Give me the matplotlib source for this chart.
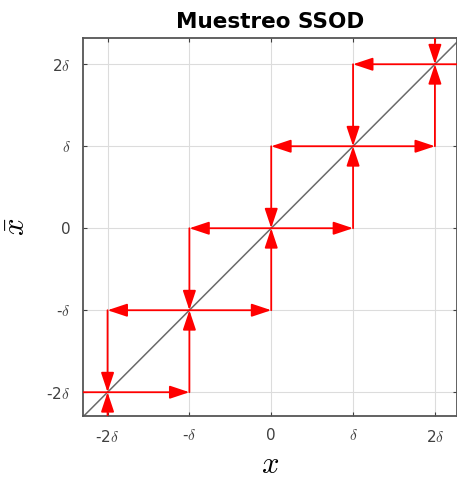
import matplotlib
matplotlib.use("Agg")
import matplotlib.pyplot as plt
import numpy as np

plt.rcParams['mathtext.fontset'] = 'cm'

# Data
levels = [-3, -2, -1, 0, 1, 2, 3]          # quantization levels (in units of delta)
tick_vals = [-2, -1, 0, 1, 2]
tick_labels = ['-2$\\delta$', '-$\\delta$', '0', '$\\delta$', '2$\\delta$']
lim = [-2.3, 2.27]
ylim = [-2.29, 2.32]

fig = plt.figure(figsize=(4.57, 4.82), dpi=100)
ax = fig.add_axes([83/457, 1-416/482, 1-83/457, (416-38)/482])

# identity line
ax.plot([lim[0] - 1, lim[1] + 1], [lim[0] - 1, lim[1] + 1], color='#6a6a6a', lw=1.1, zorder=2)

aprops = dict(arrowstyle='-|>,head_length=0.6,head_width=0.2', color='red', lw=1.3,
              shrinkA=0, shrinkB=0, mutation_scale=20)

for k in levels:
    # horizontal arrows from (k,k) outward
    ax.annotate('', xy=(k - 1, k), xytext=(k, k), arrowprops=aprops, annotation_clip=False, zorder=3)
    ax.annotate('', xy=(k + 1, k), xytext=(k, k), arrowprops=aprops, annotation_clip=False, zorder=3)
    # vertical arrows to neighboring diagonal points
    ax.annotate('', xy=(k - 1, k - 1), xytext=(k - 1, k), arrowprops=aprops, annotation_clip=False, zorder=3)
    ax.annotate('', xy=(k + 1, k + 1), xytext=(k + 1, k), arrowprops=aprops, annotation_clip=False, zorder=3)

for a in ax.texts:
    a.arrow_patch.set_clip_on(True)
    a.arrow_patch.set_clip_box(ax.bbox)

ax.set_xlim(lim)
ax.set_ylim(ylim)
ax.set_xticks(tick_vals)
ax.set_yticks(tick_vals)
ax.set_xticklabels(tick_labels)
ax.set_yticklabels(tick_labels)
ax.tick_params(direction='in', top=True, right=True, length=3, labelsize=11,
               colors='#404040', pad=9)
ax.grid(True, color='#dcdcdc', lw=0.8)
ax.set_axisbelow(True)
for s in ax.spines.values():
    s.set_color('#555555')
    s.set_linewidth(1.3)

ax.set_title('Muestreo SSOD', fontsize=15.5, fontweight='bold', pad=7)
ax.set_xlabel('$x$', fontsize=22, labelpad=4)
ax.set_ylabel('$\\bar{x}$', fontsize=22, labelpad=11)

fig.savefig('out.png', dpi=100)
